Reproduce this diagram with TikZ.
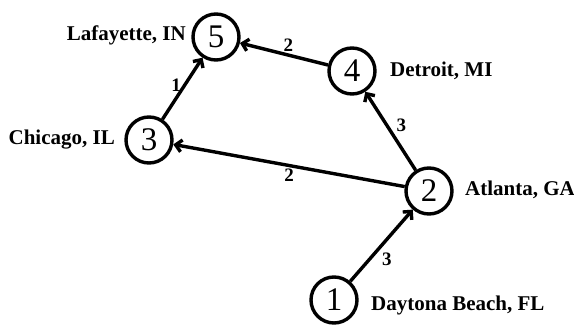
\documentclass[tikz,border=0pt]{standalone}
\usepackage{fontspec}
\setmainfont{Liberation Serif}
\usetikzlibrary{arrows.meta}
\tikzset{
  city/.style={circle, draw, line width=3.4pt, minimum size=46pt, inner sep=0pt, font=\fontsize{33}{33}\selectfont},
  place/.style={font=\bfseries\fontsize{21}{22}\selectfont, inner sep=1pt},
  weight/.style={font=\bfseries\fontsize{19}{19}\selectfont, inner sep=2pt}
}
\begin{document}
\begin{tikzpicture}[x=1pt, y=-1pt]
      \useasboundingbox (0,0) rectangle (574,329);
      \draw
        (334,300) node[city] (1){1}
        (429,191) node[city] (2){2}
        (149,140) node[city] (3){3}
        (352,71) node[city] (4){4}
        (216,37) node[city] (5){5};
      \node[place, anchor=east] (lafayette) at (187,35) {Lafayette, IN};
      \node[place, anchor=east] (chicago) at (116,140) {Chicago, IL};
      \node[place, anchor=west] (detroit) at (389,71) {Detroit, MI};
      \node[place, anchor=west] (atlanta) at (464,190) {Atlanta, GA};
      \node[place, anchor=west] (daytona) at (370,305) {Daytona Beach, FL};
      \begin{scope}[-{Straight Barb[length=6pt, width=12pt]}, line width=3.4pt]
        \draw (1) to node[weight, below right, pos=0.45] {3} (2);
        \draw (2) to node[weight, above right, pos=0.45] {3} (4);
        \draw (2) to node[weight, below, pos=0.5] {2} (3);
        \draw (3) to node[weight, left, pos=0.55] {1} (5);
        \draw (4) to node[weight, above, pos=0.45] {2} (5);
      \end{scope}
    \end{tikzpicture}
\end{document}
